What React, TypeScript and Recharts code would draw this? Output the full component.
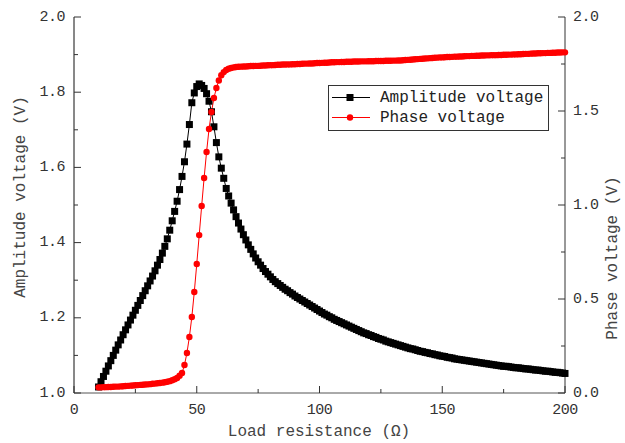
import React from 'react';
import { ComposedChart, Line, XAxis, YAxis, Legend, Label } from 'recharts';

const resistance = [
  10, 11, 12, 13, 14, 15, 16, 17, 18, 19,
  20, 21, 22, 23, 24, 25, 26, 27, 28, 29,
  30, 31, 32, 33, 34, 35, 36, 37, 38, 39,
  40, 41, 42, 43, 44, 45, 46, 47, 48, 49,
  50, 51, 52, 53, 54, 55, 56, 57, 58, 59,
  60, 61, 62, 63, 64, 65, 66, 67, 68, 69,
  70, 71, 72, 73, 74, 75, 76, 77, 78, 79,
  80, 81, 82, 83, 84, 85, 86, 87, 88, 89,
  90, 91, 92, 93, 94, 95, 96, 97, 98, 99,
  100, 101, 102, 103, 104, 105, 106, 107, 108, 109,
  110, 111, 112, 113, 114, 115, 116, 117, 118, 119,
  120, 121, 122, 123, 124, 125, 126, 127, 128, 129,
  130, 131, 132, 133, 134, 135, 136, 137, 138, 139,
  140, 141, 142, 143, 144, 145, 146, 147, 148, 149,
  150, 151, 152, 153, 154, 155, 156, 157, 158, 159,
  160, 161, 162, 163, 164, 165, 166, 167, 168, 169,
  170, 171, 172, 173, 174, 175, 176, 177, 178, 179,
  180, 181, 182, 183, 184, 185, 186, 187, 188, 189,
  190, 191, 192, 193, 194, 195, 196, 197, 198, 199,
  200,
];

const amplitudeVoltage = [
  1.016, 1.030, 1.044, 1.058, 1.072, 1.086, 1.100, 1.114, 1.128, 1.141,
  1.155, 1.168, 1.181, 1.194, 1.207, 1.220, 1.233, 1.246, 1.259, 1.272,
  1.285, 1.298, 1.311, 1.325, 1.340, 1.355, 1.372, 1.390, 1.410, 1.433,
  1.458, 1.483, 1.510, 1.541, 1.576, 1.615, 1.662, 1.714, 1.772, 1.798,
  1.815, 1.822, 1.818, 1.810, 1.796, 1.776, 1.748, 1.708, 1.666, 1.628,
  1.598, 1.571, 1.544, 1.524, 1.505, 1.487, 1.469, 1.452, 1.436, 1.421,
  1.407, 1.394, 1.382, 1.370, 1.359, 1.349, 1.340, 1.331, 1.323, 1.316,
  1.309, 1.302, 1.296, 1.291, 1.286, 1.281, 1.276, 1.272, 1.267, 1.263,
  1.258, 1.254, 1.250, 1.246, 1.242, 1.238, 1.234, 1.230, 1.226, 1.222,
  1.218, 1.214, 1.210, 1.207, 1.203, 1.200, 1.196, 1.193, 1.190, 1.187,
  1.184, 1.181, 1.178, 1.175, 1.172, 1.169, 1.166, 1.163, 1.160, 1.158,
  1.155, 1.153, 1.150, 1.148, 1.145, 1.143, 1.141, 1.138, 1.136, 1.134,
  1.132, 1.130, 1.128, 1.126, 1.124, 1.122, 1.120, 1.118, 1.117, 1.115,
  1.113, 1.111, 1.110, 1.108, 1.107, 1.105, 1.104, 1.102, 1.101, 1.099,
  1.098, 1.097, 1.095, 1.094, 1.093, 1.091, 1.090, 1.089, 1.088, 1.087,
  1.086, 1.085, 1.084, 1.083, 1.082, 1.081, 1.080, 1.079, 1.078, 1.077,
  1.076, 1.075, 1.074, 1.073, 1.072, 1.071, 1.071, 1.070, 1.069, 1.068,
  1.067, 1.067, 1.066, 1.065, 1.064, 1.064, 1.063, 1.062, 1.061, 1.061,
  1.060, 1.059, 1.058, 1.058, 1.057, 1.056, 1.055, 1.055, 1.054, 1.053,
  1.052,
];

const phaseVoltage = [
  0.030, 0.030, 0.031, 0.031, 0.032, 0.032, 0.033, 0.034, 0.034, 0.035,
  0.036, 0.037, 0.038, 0.039, 0.040, 0.041, 0.042, 0.043, 0.044, 0.045,
  0.046, 0.047, 0.049, 0.050, 0.052, 0.053, 0.055, 0.057, 0.060, 0.063,
  0.068, 0.073, 0.080, 0.092, 0.106, 0.149, 0.213, 0.298, 0.404, 0.537,
  0.686, 0.840, 0.995, 1.144, 1.282, 1.404, 1.495, 1.569, 1.622, 1.662,
  1.690, 1.707, 1.718, 1.725, 1.729, 1.732, 1.734, 1.735, 1.736, 1.737,
  1.737, 1.738, 1.739, 1.739, 1.740, 1.740, 1.741, 1.742, 1.742, 1.743,
  1.744, 1.744, 1.745, 1.746, 1.746, 1.747, 1.747, 1.748, 1.748, 1.749,
  1.749, 1.750, 1.750, 1.751, 1.752, 1.752, 1.753, 1.753, 1.754, 1.755,
  1.755, 1.756, 1.757, 1.757, 1.758, 1.759, 1.759, 1.760, 1.760, 1.761,
  1.761, 1.762, 1.762, 1.762, 1.763, 1.763, 1.763, 1.764, 1.764, 1.764,
  1.765, 1.765, 1.765, 1.766, 1.766, 1.766, 1.766, 1.767, 1.767, 1.767,
  1.768, 1.768, 1.769, 1.769, 1.770, 1.771, 1.772, 1.773, 1.774, 1.775,
  1.776, 1.777, 1.778, 1.779, 1.780, 1.781, 1.782, 1.783, 1.784, 1.785,
  1.785, 1.786, 1.787, 1.787, 1.788, 1.789, 1.789, 1.790, 1.790, 1.791,
  1.792, 1.792, 1.793, 1.793, 1.794, 1.794, 1.795, 1.795, 1.796, 1.796,
  1.797, 1.797, 1.797, 1.798, 1.798, 1.799, 1.799, 1.800, 1.800, 1.801,
  1.801, 1.802, 1.802, 1.803, 1.804, 1.804, 1.805, 1.806, 1.806, 1.807,
  1.807, 1.808, 1.808, 1.809, 1.809, 1.810, 1.810, 1.811, 1.811, 1.812,
  1.812,
];

const xTicks = [0, 25, 50, 75, 100, 125, 150, 175, 200];
const xTickLabels = ['0', '', '50', '', '100', '', '150', '', '200'];
const leftTicks = [1.0, 1.1, 1.2, 1.3, 1.4, 1.5, 1.6, 1.7, 1.8, 1.9, 2.0];
const leftTickLabels = ['1.0', '', '1.2', '', '1.4', '', '1.6', '', '1.8', '', '2.0'];
const rightTicks = [0, 0.25, 0.5, 0.75, 1.0, 1.25, 1.5, 1.75, 2.0];
const rightTickLabels = ['0.0', '', '0.5', '', '1.0', '', '1.5', '', '2.0'];

const seriesNames = ['Amplitude voltage', 'Phase voltage'];
const axisTitles = ['Load resistance (Ω)', 'Amplitude voltage (V)', 'Phase voltage (V)'];

const data = resistance.map((x, i) => ({ x, amp: amplitudeVoltage[i], phase: phaseVoltage[i] }));

const FONT = "'Liberation Mono', 'DejaVu Sans Mono', monospace";
const TICK_COLOR = '#333';
const MAJOR = 7;
const MINOR = 4;

const BottomTick = (props: any) => {
  const { x, y, index } = props;
  const label = xTickLabels[index];
  const len = label ? MAJOR : MINOR;
  return (
    <g>
      <line x1={x} x2={x} y1={y} y2={y - len} stroke="#333" strokeWidth={1} />
      {label ? (
        <text x={x} y={y + 17} textAnchor="middle" dominantBaseline="central" fontFamily={FONT} fontSize={15} fill={TICK_COLOR} letterSpacing={-0.5}>
          {label}
        </text>
      ) : null}
    </g>
  );
};

const LeftTick = (props: any) => {
  const { x, y, index } = props;
  const label = leftTickLabels[index];
  const len = label ? MAJOR : MINOR;
  return (
    <g>
      <line x1={x} x2={x + len} y1={y} y2={y} stroke="#333" strokeWidth={1} />
      {label ? (
        <text x={x - 9} y={y} textAnchor="end" dominantBaseline="central" fontFamily={FONT} fontSize={15} fill={TICK_COLOR} letterSpacing={-0.5}>
          {label}
        </text>
      ) : null}
    </g>
  );
};

const RightTick = (props: any) => {
  const { x, y, index } = props;
  const label = rightTickLabels[index];
  const len = label ? MAJOR : MINOR;
  return (
    <g>
      <line x1={x} x2={x - len} y1={y} y2={y} stroke="#333" strokeWidth={1} />
      {label ? (
        <text x={x + 8} y={y} textAnchor="start" dominantBaseline="central" fontFamily={FONT} fontSize={15} fill={TICK_COLOR} letterSpacing={-0.5}>
          {label}
        </text>
      ) : null}
    </g>
  );
};

const SquareDot = (props: any) => {
  const { cx, cy, index } = props;
  if (cx == null || cy == null) return <g key={`s${index}`} />;
  return <rect key={`s${index}`} x={cx - 3.5} y={cy - 3.5} width={7} height={7} fill="#000" />;
};

const CircleDot = (props: any) => {
  const { cx, cy, index } = props;
  if (cx == null || cy == null) return <g key={`c${index}`} />;
  return <circle key={`c${index}`} cx={cx} cy={cy} r={3.2} fill="#ff0000" />;
};

const LegendBox = () => (
  <svg width={222} height={47} style={{ display: 'block' }}>
    <rect x={0.5} y={0.5} width={220} height={45} fill="#fff" stroke="#333" strokeWidth={1} />
    <line x1={4} x2={42} y1={12.5} y2={12.5} stroke="#000" strokeWidth={1} />
    <rect x={18.5} y={9} width={7} height={7} fill="#000" />
    <text x={52} y={12.5} dominantBaseline="central" fontFamily={FONT} fontSize={16} fill="#222">
      {seriesNames[0]}
    </text>
    <line x1={4} x2={42} y1={32.5} y2={32.5} stroke="#ff0000" strokeWidth={1} />
    <circle cx={22} cy={32.5} r={3.2} fill="#ff0000" />
    <text x={52} y={32.5} dominantBaseline="central" fontFamily={FONT} fontSize={16} fill="#222">
      {seriesNames[1]}
    </text>
  </svg>
);

export default function App() {
  return (
    <div style={{ position: 'absolute', left: 0, top: 0, width: 625, height: 443, background: '#fff' }}>
      <ComposedChart width={625} height={443} data={data} margin={{ top: 17, right: 0, bottom: 0, left: 0 }}>
        <XAxis
          xAxisId="top"
          orientation="top"
          dataKey="x"
          type="number"
          domain={[0, 200]}
          height={0}
          tick={false}
          tickLine={false}
          axisLine={{ stroke: '#555', strokeWidth: 1 }}
        />
        <XAxis
          dataKey="x"
          type="number"
          domain={[0, 200]}
          ticks={xTicks}
          interval={0}
          height={50}
          tickSize={0}
          tickMargin={0}
          tickLine={false}
          tick={<BottomTick />}
          axisLine={{ stroke: '#555', strokeWidth: 1 }}
        >
          <Label
            content={() => (
              <text x={319} y={432} textAnchor="middle" dominantBaseline="central" fontFamily={FONT} fontSize={16} fill="#444">
                {axisTitles[0]}
              </text>
            )}
          />
        </XAxis>
        <YAxis
          yAxisId="left"
          orientation="left"
          type="number"
          domain={[1, 2]}
          ticks={leftTicks}
          interval={0}
          width={74}
          tickSize={0}
          tickMargin={0}
          tickLine={false}
          tick={<LeftTick />}
          axisLine={{ stroke: '#111', strokeWidth: 1 }}
        >
          <Label
            content={() => (
              <text x={21} y={197} textAnchor="middle" dominantBaseline="central" fontFamily={FONT} fontSize={16} fill="#444" transform="rotate(-90 21 197)">
                {axisTitles[1]}
              </text>
            )}
          />
        </YAxis>
        <YAxis
          yAxisId="right"
          orientation="right"
          type="number"
          domain={[0, 2]}
          ticks={rightTicks}
          interval={0}
          width={60}
          tickSize={0}
          tickMargin={0}
          tickLine={false}
          tick={<RightTick />}
          axisLine={{ stroke: '#333', strokeWidth: 1 }}
        >
          <Label
            content={() => (
              <text x={613} y={258} textAnchor="middle" dominantBaseline="central" fontFamily={FONT} fontSize={16} fill="#444" transform="rotate(-90 613 258)">
                {axisTitles[2]}
              </text>
            )}
          />
        </YAxis>
        <Legend
          layout="horizontal"
          align="center"
          verticalAlign="middle"
          content={() => <LegendBox />}
          wrapperStyle={{ left: 328, top: 85, width: 222, height: 47, right: 'auto', bottom: 'auto' }}
        />
        <Line
          yAxisId="left"
          dataKey="amp"
          type="linear"
          stroke="#000"
          strokeWidth={1}
          dot={SquareDot}
          activeDot={false}
          isAnimationActive={false}
        />
        <Line
          yAxisId="right"
          dataKey="phase"
          type="linear"
          stroke="#ff0000"
          strokeWidth={1}
          dot={CircleDot}
          activeDot={false}
          isAnimationActive={false}
        />
      </ComposedChart>
    </div>
  );
}
